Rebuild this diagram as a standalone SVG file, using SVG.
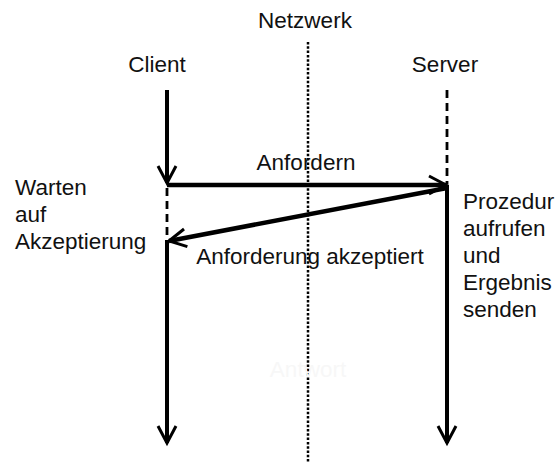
<svg xmlns="http://www.w3.org/2000/svg" width="560" height="466" viewBox="0 0 560 466">
  <style>
    text { font-family: "Liberation Sans", Arial, sans-serif; font-size: 22.5px; fill: #111; }
    .life { stroke: #000; stroke-width: 4; fill: none; }
    .wait { stroke: #000; stroke-width: 2.8; stroke-dasharray: 8 5; fill: none; }
    .net { stroke: #000; stroke-width: 2.5; stroke-dasharray: 2.5 1.8; fill: none; }
    .msg { stroke: #000; stroke-width: 4.5; fill: none; }
    .faint { fill: #f7f7f7; }
  </style>
  <defs>
    <marker id="open" markerUnits="userSpaceOnUse" viewBox="-22 -12 26 24" markerWidth="26" markerHeight="24" refX="0" refY="0" orient="auto">
      <path d="M-17,-9 L0,0 L-17,9" fill="none" stroke="#000" stroke-width="3"/>
    </marker>
  </defs>

  <rect width="560" height="466" fill="#fff"/>

  <!-- network boundary -->
  <g id="network">
    <line class="net" x1="308" y1="42" x2="308" y2="463"/>
    <text x="305" y="28" text-anchor="middle">Netzwerk</text>
    <text class="faint" x="308" y="377" text-anchor="middle">Antwort</text>
  </g>

  <!-- client lifeline -->
  <g id="client">
    <text x="157" y="72" text-anchor="middle">Client</text>
    <line class="life" x1="167" y1="90" x2="167" y2="183" marker-end="url(#open)"/>
    <line class="wait" x1="167" y1="188" x2="167" y2="240"/>
    <line class="life" x1="167" y1="240" x2="167" y2="443" marker-end="url(#open)"/>
  </g>

  <!-- server lifeline -->
  <g id="server">
    <text x="445" y="72" text-anchor="middle">Server</text>
    <line class="wait" x1="447" y1="90" x2="447" y2="184"/>
    <line class="life" x1="447" y1="185" x2="447" y2="443" marker-end="url(#open)"/>
  </g>

  <!-- annotations -->
  <g id="client-note">
    <text x="15" y="195">Warten</text>
    <text x="15" y="222">auf</text>
    <text x="15" y="249">Akzeptierung</text>
  </g>
  <g id="server-note">
    <text x="463" y="209">Prozedur</text>
    <text x="463" y="236">aufrufen</text>
    <text x="463" y="263">und</text>
    <text x="463" y="290">Ergebnis</text>
    <text x="463" y="317">senden</text>
  </g>

  <!-- messages -->
  <g id="connectors">
    <line class="msg" x1="167" y1="185" x2="446" y2="185" marker-end="url(#open)"/>
    <text x="306" y="170" text-anchor="middle">Anfordern</text>
    <line class="msg" x1="447" y1="188" x2="169" y2="241" marker-end="url(#open)"/>
    <text x="310" y="264" text-anchor="middle">Anforderung akzeptiert</text>
  </g>
</svg>
